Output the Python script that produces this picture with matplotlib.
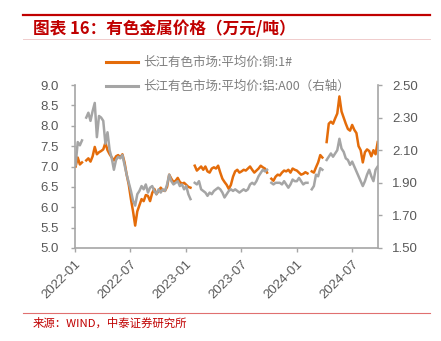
import numpy as np
import pandas as pd
import matplotlib
matplotlib.use('Agg')
import matplotlib.pyplot as plt
import matplotlib.dates as mdates
from matplotlib.lines import Line2D

nan = np.nan

# weekly readings (Mondays), 万元/吨
first_week = '2022-01-03'

copper_2022 = [7.00, 7.22, 7.05, 7.10, nan,
               7.15, 7.20, 7.12, 7.25,
               7.48, 7.30, 7.35, 7.38,
               7.42, 7.58, 7.40, 7.30,
               7.22, 7.15, 7.25, 7.28, 7.22,
               7.30, 7.10, 6.80, 6.55,
               6.20, 5.90, 5.55, 5.90,
               6.05, 6.20, 6.15, 6.30, 6.28,
               6.15, 6.35, 6.45, 6.32,
               6.40, 6.48, 6.42, 6.40, 6.50,
               6.80, 6.70, 6.62, 6.65,
               6.72, 6.62, 6.58, 6.60]
copper_2023 = [6.55, 6.50, 6.48, nan, 7.02,
               6.90, 6.95, 7.00, 6.92,
               7.00, 6.88, 6.85, 6.95,
               6.98, 6.95, 7.02, 6.85,
               6.70, 6.62, 6.55, 6.45, 6.55,
               6.75, 6.88, 6.92, 6.85,
               6.88, 6.92, 6.90, 6.95, 7.00,
               6.92, 6.85, 6.90, 6.95,
               7.02, 6.98, 6.95, 6.85,
               nan, 6.70, 6.65, 6.75, 6.80,
               6.78, 6.85, 6.90, 6.88,
               6.92, 6.85, 6.95, 6.92]
copper_2024 = [6.90, 6.85, 6.80, 6.82, 6.86,
               6.83, nan, 6.88, 6.85,
               6.98, 7.10, 7.28, 7.22,
               nan, 7.60, 8.05, 8.10, 8.05,
               8.18, 8.30, 8.72, 8.35,
               8.20, 8.05, 7.92, 7.88,
               8.02, 7.90, 7.82, 7.50, 7.40,
               7.10, 7.35, 7.42, 7.38,
               7.25, 7.40, 7.30, 7.60]

aluminum_2022 = [2.01, 2.15, 2.13, 2.16, nan,
                 2.30, 2.33, 2.28, 2.34,
                 2.39, 2.18, 2.31, 2.30,
                 2.28, 2.14, 2.21, 2.10,
                 2.05, 1.98, 2.04, 2.06, 2.05,
                 2.07, 2.01, 1.95, 1.90,
                 1.85, 1.79, 1.76, 1.83,
                 1.85, 1.88, 1.86, 1.89, 1.84,
                 1.87, 1.88, 1.85, 1.83,
                 1.86, 1.84, 1.86, 1.85, 1.89,
                 1.95, 1.91, 1.89, 1.90,
                 1.91, 1.88, 1.89, 1.86]
aluminum_2023 = [1.88, 1.83, 1.80, nan, 1.90,
                 1.89, 1.91, 1.86, 1.85,
                 1.84, 1.82, 1.84, 1.83,
                 1.85, 1.86, 1.87, 1.86,
                 1.84, 1.81, 1.83, 1.85, 1.86,
                 1.85, 1.86, 1.85, 1.84,
                 1.85, 1.86, 1.85, 1.86, 1.89,
                 1.90, 1.89, 1.91, 1.94,
                 1.96, 1.98, 1.97, 1.98,
                 nan, 1.90, 1.89, 1.90, 1.90,
                 1.90, 1.89, 1.91, 1.89,
                 1.87, 1.89, 1.92, 1.91]
aluminum_2024 = [1.91, 1.93, 1.91, 1.89, 1.90,
                 1.90, nan, 1.86, 1.88,
                 1.95, 1.94, 1.99, 1.98,
                 nan, 2.04, 2.06, 2.08, 2.06,
                 2.08, 2.10, 2.17, 2.11,
                 2.09, 2.05, 2.04, 2.01,
                 2.03, 2.00, 1.97, 1.94, 1.91,
                 1.88, 1.91, 1.95, 1.98,
                 1.94, 1.91, 1.98, 2.00]

copper_label = '长江有色市场:平均价:铜:1#'
aluminum_label = '长江有色市场:平均价:铝:A00（右轴）'
title_text = '图表 16：有色金属价格（万元/吨）'
source_text = '来源：WIND，中泰证券研究所'

left_ticks = [5.0, 5.5, 6.0, 6.5, 7.0, 7.5, 8.0, 8.5, 9.0]
right_ticks = [1.50, 1.70, 1.90, 2.10, 2.30, 2.50]

W, H = 441, 341
ORANGE = '#E46C0A'
GREY = '#A5A5A5'
AXIS_GREY = '#A6A6A6'
TEXT_GREY = '#595959'
RED = '#C00000'
CJK = ['Noto Sans CJK SC', 'DejaVu Sans']


def fx(x):
    return x / W


def fy(y):
    return 1 - y / H


def build_frame():
    """Put the weekly readings into one table indexed by date."""
    copper = copper_2022 + copper_2023 + copper_2024
    aluminum = aluminum_2022 + aluminum_2023 + aluminum_2024
    dates = pd.date_range(first_week, periods=len(copper), freq='7D')
    return pd.DataFrame({'copper': copper, 'aluminum': aluminum}, index=dates)


def style_axis(ax, side):
    for s in ax.spines.values():
        s.set_visible(False)
    for s in side:
        ax.spines[s].set_visible(True)
        ax.spines[s].set_color(AXIS_GREY)
        ax.spines[s].set_linewidth(1.2)
    ax.tick_params(colors=AXIS_GREY, labelcolor=TEXT_GREY, labelsize=9.5,
                   length=3, width=1.0)


def main():
    plt.rcParams['font.family'] = ['Liberation Sans', 'Noto Sans CJK SC']
    df = build_frame()

    fig = plt.figure(figsize=(W / 100, H / 100), dpi=100)
    ax = fig.add_axes([fx(75), fy(248), fx(378) - fx(75), fy(85) - fy(248)])
    ax2 = ax.twinx()

    l1, = ax.plot(df.index, df['copper'], color=ORANGE, lw=1.8)
    l2, = ax2.plot(df.index, df['aluminum'], color=GREY, lw=1.8)

    ax.set_ylim(5.0, 9.0)
    ax.set_yticks(left_ticks)
    ax.set_yticklabels([f'{v:.1f}' for v in left_ticks])
    ax2.set_ylim(1.5, 2.5)
    ax2.set_yticks(right_ticks)
    ax2.set_yticklabels([f'{v:.2f}' for v in right_ticks])

    ax.set_xlim(pd.Timestamp('2022-01-01'), pd.Timestamp('2024-09-24'))
    ax.xaxis.set_major_locator(mdates.MonthLocator(bymonth=[1, 7]))
    ax.xaxis.set_major_formatter(mdates.DateFormatter('%Y-%m'))

    style_axis(ax, ['left', 'bottom'])
    style_axis(ax2, ['right'])
    ax.tick_params(axis='y', pad=9)
    ax2.tick_params(axis='y', pad=7)
    ax.tick_params(axis='x', pad=4)
    for lab in ax.get_xticklabels():
        lab.set_rotation(45)
        lab.set_ha('right')
        lab.set_va('top')
        lab.set_rotation_mode('anchor')

    leg = fig.legend([l1, l2], [copper_label, aluminum_label],
                     loc='upper left', bbox_to_anchor=(fx(100), fy(50)),
                     frameon=False, handlelength=2.5, handletextpad=0.45,
                     labelspacing=0.85, borderpad=0,
                     prop={'family': CJK, 'size': 9})
    for t in leg.get_texts():
        t.set_color('#7F7F7F')
    for h in leg.legend_handles:
        h.set_linewidth(2.2)

    # header and footer rules
    fig.add_artist(Line2D([fx(23), fx(430)], [fy(15), fy(15)], color=RED, lw=1.6))
    fig.add_artist(Line2D([fx(23), fx(430)], [fy(39), fy(39)], color='#F0CCCC', lw=0.7))
    fig.add_artist(Line2D([fx(23), fx(430)], [fy(313), fy(313)], color='#E07070', lw=0.8))

    fig.text(fx(33), fy(29), title_text, color=RED, fontsize=12,
             fontweight='bold', fontstyle='italic', family=CJK, va='center')
    fig.text(fx(33), fy(323), source_text, color=RED, fontsize=8.2,
             family=CJK, va='center')

    fig.savefig('out.png', dpi=100)


if __name__ == '__main__':
    main()
